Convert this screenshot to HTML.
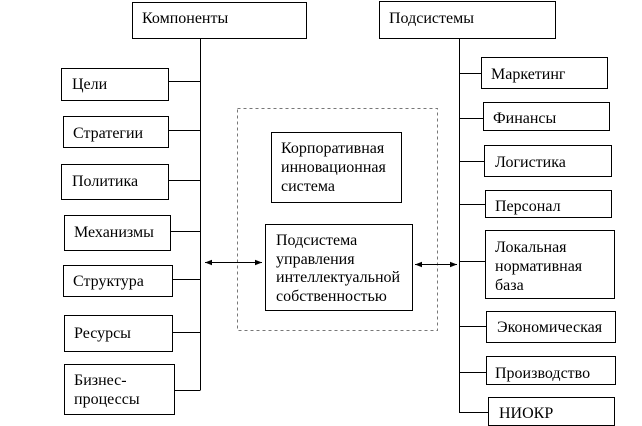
<!DOCTYPE html>
<html><head><meta charset="utf-8"><style>
html,body{margin:0;padding:0;background:#fff;}
svg{display:block;}
text{font-family:"Liberation Serif","Times New Roman","DejaVu Serif",serif;font-size:16px;fill:#000;}
</style></head><body>
<svg width="642" height="426" viewBox="0 0 642 426" xmlns="http://www.w3.org/2000/svg">
<defs>
<marker id="a" viewBox="0 0 10 10" refX="10" refY="5" markerWidth="7" markerHeight="7" orient="auto-start-reverse"><path d="M0,1 L10,5 L0,9 z" fill="#000"/></marker>
</defs>
<g fill="#fff" stroke="#000" stroke-width="1">
<rect x="132.5" y="2.5" width="174" height="36"/>
<rect x="61.5" y="68.5" width="107" height="32"/>
<rect x="63.5" y="116.5" width="105" height="31"/>
<rect x="61.5" y="164.5" width="107" height="35"/>
<rect x="64.5" y="215.5" width="106" height="35"/>
<rect x="63.5" y="265.5" width="109" height="31"/>
<rect x="64.5" y="315.5" width="108" height="36"/>
<rect x="64.5" y="364.5" width="110" height="50"/>
<rect x="379.5" y="1.5" width="176" height="37"/>
<rect x="481.5" y="57.5" width="126" height="31"/>
<rect x="483.5" y="102.5" width="126" height="28"/>
<rect x="484.5" y="145.5" width="127" height="31"/>
<rect x="485.5" y="190.5" width="126" height="27"/>
<rect x="485.5" y="230.5" width="129" height="68"/>
<rect x="486.5" y="311.5" width="129" height="31"/>
<rect x="486.5" y="356.5" width="129" height="28"/>
<rect x="488.5" y="397.5" width="126" height="28"/>
<rect x="271.5" y="132.5" width="130" height="70"/>
<rect x="265.5" y="224.5" width="147" height="86"/>
</g>
<rect x="237.5" y="108.5" width="200" height="222" fill="none" stroke="#777" stroke-dasharray="3,3"/>
<g stroke="#000" stroke-width="1" fill="none">
<path d="M200.5 38V390.5"/>
<path d="M168 81.5H200M168 130.5H200M168 180.5H200M170 231.5H200M172 279.5H200M172 332.5H200M174 390.5H200"/>
<path d="M459.5 38V412.5"/>
<path d="M459 73.5H481M459 118.5H483M459 161.5H484M459 204.5H485M459 261.5H485M459 326.5H486M459 372.5H486M459 412.5H488"/>
<path d="M205 262.5H262" marker-start="url(#a)" marker-end="url(#a)"/>
<path d="M415 264.5H457" marker-start="url(#a)" marker-end="url(#a)"/>
</g>
<text x="142" y="23">Компоненты</text>
<text x="72" y="89">Цели</text>
<text x="73" y="138">Стратегии</text>
<text x="72" y="186">Политика</text>
<text x="74" y="237">Механизмы</text>
<text x="73" y="286">Структура</text>
<text x="74" y="338">Ресурсы</text>
<text x="74" y="385">Бизнес-</text>
<text x="74" y="404">процессы</text>
<text x="389" y="23">Подсистемы</text>
<text x="491" y="79">Маркетинг</text>
<text x="493" y="123">Финансы</text>
<text x="495" y="167">Логистика</text>
<text x="495" y="211">Персонал</text>
<text x="495" y="252">Локальная</text>
<text x="495" y="271">нормативная</text>
<text x="495" y="290">база</text>
<text x="497" y="332">Экономическая</text>
<text x="495" y="378">Производство</text>
<text x="499" y="418">НИОКР</text>
<text x="281" y="153">Корпоративная</text>
<text x="281" y="172">инновационная</text>
<text x="281" y="191">система</text>
<text x="276" y="245">Подсистема</text>
<text x="276" y="264">управления</text>
<text x="276" y="282">интеллектуальной</text>
<text x="276" y="301">собственностью</text>
</svg>
</body></html>
